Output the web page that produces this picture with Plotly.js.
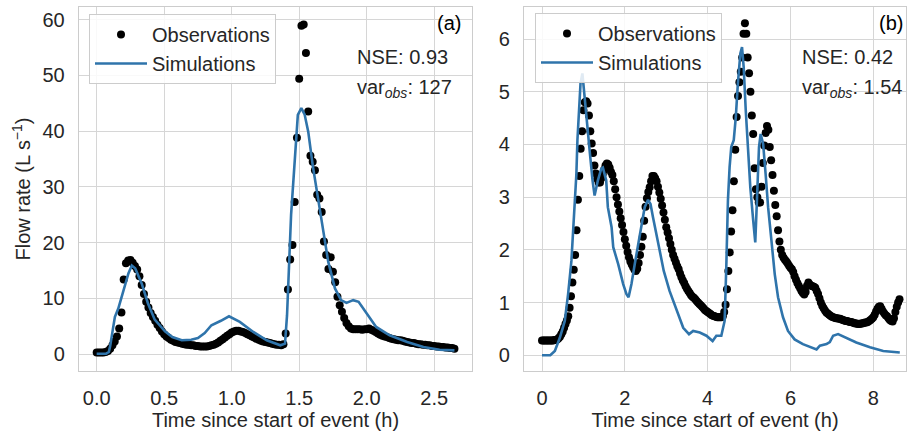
<!DOCTYPE html>
<html>
<head>
<meta charset="utf-8">
<script src="https://cdn.plot.ly/plotly-3.0.1.min.js"></script>
<style>html,body{margin:0;padding:0;background:#fff;}#chart{width:909px;height:432px;}</style>
</head>
<body>
<div id="chart"></div>
<script>
// ---------- Panel (a) ----------
// observations, one value per minute starting at t = 0 h
const obsA_step = 1 / 60;
const obsA_q = [
  0.3, 0.3, 0.3, 0.3, 0.4, 0.6, 1.0, 1.6, 2.3, 3.2,
  4.6, 7.5, 13.4, 16.3, 16.8, 16.9, 16.4, 15.8, 15.2, 14.0,
  12.4, 10.8, 9.4, 8.4, 7.4, 6.7, 6.0, 5.3, 4.7, 4.1,
  3.6, 3.2, 2.9, 2.6, 2.4, 2.2, 2.1, 2.0, 1.9, 1.8,
  1.7, 1.7, 1.6, 1.6, 1.5, 1.5, 1.4, 1.4, 1.4, 1.4,
  1.5, 1.6, 1.7, 1.9, 2.1, 2.4, 2.7, 3.0, 3.3, 3.6,
  3.9, 4.1, 4.2, 4.2, 4.1, 4.0, 3.8, 3.6, 3.4, 3.2,
  3.0, 2.8, 2.6, 2.4, 2.3, 2.2, 2.1, 2.0, 1.9, 1.8,
  1.7, 1.7, 1.6, 1.8, 3.7, 11.6, 17.0, 19.6, 27.3, 38.8,
  49.4, 58.9, 59.1, 54.0, 43.5, 35.6, 34.5, 33.0, 28.6, 27.9,
  25.5, 20.2, 17.8, 15.3, 17.4, 14.8, 12.9, 10.3, 8.8, 7.6,
  6.5, 5.6, 5.0, 4.6, 4.5, 4.5, 4.5, 4.5, 4.4, 4.5,
  4.5, 4.6, 4.4, 4.2, 4.0, 3.7, 3.5, 3.3, 3.2, 3.1,
  2.9, 2.8, 2.7, 2.6, 2.5, 2.5, 2.4, 2.3, 2.2, 2.1,
  2.0, 2.0, 1.9, 1.8, 1.8, 1.7, 1.7, 1.6, 1.6, 1.5,
  1.5, 1.4, 1.4, 1.3, 1.3, 1.2, 1.2, 1.1, 1.1, 1.0
];
const obsA_t = obsA_q.map((_, i) => i * obsA_step);

const simA_t = [0, 0.07, 0.09, 0.10, 0.12, 0.135, 0.16, 0.197, 0.235, 0.26, 0.285, 0.333, 0.38, 0.43, 0.506, 0.56, 0.63, 0.70, 0.75, 0.80, 0.85, 0.92, 0.98, 1.06, 1.16, 1.26, 1.36, 1.395, 1.41, 1.44, 1.47, 1.49, 1.516, 1.54, 1.567, 1.60, 1.64, 1.68, 1.715, 1.765, 1.81, 1.85, 1.90, 1.94, 2.00, 2.07, 2.17, 2.30, 2.42, 2.54, 2.65];
const simA_q = [0.1, 0.1, 0.4, 1.5, 4.5, 6.7, 8.2, 11.5, 14.5, 15.9, 15.4, 12.7, 9.1, 6.2, 4.1, 3.1, 2.5, 2.6, 2.9, 3.8, 5.2, 6.0, 6.8, 5.8, 4.0, 2.5, 1.6, 1.9, 7.0, 25.0, 37.0, 42.9, 44.1, 43.0, 39.9, 33.9, 27.9, 21.9, 16.6, 11.8, 9.7, 9.2, 9.7, 9.4, 7.3, 4.9, 3.4, 2.2, 1.3, 0.8, 0.7];

// ---------- Panel (b) ----------
// observations, one value every 2 minutes starting at t = 0 h
const obsB_step = 1 / 30;
const obsB_q = [
  0.28, 0.28, 0.28, 0.28, 0.28, 0.28, 0.28, 0.28, 0.28, 0.29,
  0.29, 0.30, 0.32, 0.35, 0.40, 0.45, 0.52, 0.59, 0.66, 0.74,
  0.90, 1.12, 1.38, 1.62, 1.90, 2.37, 2.95, 3.40, 3.92, 4.25,
  4.65, 4.80, 4.82, 4.78, 4.55, 4.25, 4.02, 3.84, 3.60, 3.45,
  3.35, 3.28, 3.28, 3.36, 3.44, 3.52, 3.60, 3.64, 3.62, 3.56,
  3.48, 3.42, 3.30, 3.15, 3.00, 2.86, 2.73, 2.60, 2.47, 2.34,
  2.20, 2.08, 1.96, 1.86, 1.78, 1.72, 1.67, 1.62, 1.60, 1.64,
  1.75, 1.90, 2.06, 2.25, 2.55, 2.82, 2.98, 3.10, 3.19, 3.30,
  3.40, 3.40, 3.36, 3.30, 3.20, 3.09, 2.97, 2.84, 2.71, 2.57,
  2.43, 2.33, 2.22, 2.11, 2.00, 1.90, 1.83, 1.76, 1.69, 1.63,
  1.55, 1.48, 1.42, 1.37, 1.31, 1.26, 1.22, 1.18, 1.14, 1.11,
  1.09, 1.06, 1.03, 1.00, 0.97, 0.95, 0.92, 0.89, 0.86, 0.84,
  0.82, 0.80, 0.78, 0.76, 0.75, 0.74, 0.73, 0.72, 0.72, 0.72,
  0.72, 0.74, 0.82, 0.96, 1.25, 1.60, 1.95, 2.35, 2.75, 3.30,
  3.90, 4.52, 4.92, 5.18, 5.38, 5.65, 6.10, 6.30, 6.10, 5.65,
  5.35, 5.00, 4.55, 4.20, 3.55, 3.15, 3.00, 2.90, 2.90, 3.20,
  3.65, 3.98, 4.22, 4.35, 4.28, 3.95, 3.70, 3.42, 3.12, 2.85,
  2.64, 2.37, 2.16, 2.00, 1.90, 1.85, 1.81, 1.78, 1.74, 1.70,
  1.66, 1.63, 1.58, 1.50, 1.43, 1.37, 1.32, 1.27, 1.22, 1.18,
  1.15, 1.20, 1.32, 1.38, 1.34, 1.32, 1.31, 1.30, 1.28, 1.22,
  1.16, 1.08, 1.00, 0.94, 0.89, 0.85, 0.81, 0.79, 0.77, 0.75,
  0.73, 0.72, 0.71, 0.70, 0.70, 0.69, 0.69, 0.68, 0.67, 0.66,
  0.65, 0.65, 0.64, 0.63, 0.63, 0.62, 0.61, 0.60, 0.60, 0.59,
  0.59, 0.60, 0.60, 0.61, 0.62, 0.62, 0.63, 0.65, 0.67, 0.69,
  0.72, 0.77, 0.83, 0.88, 0.92, 0.93, 0.88, 0.83, 0.79, 0.76,
  0.74, 0.70, 0.67, 0.65, 0.64, 0.70, 0.82, 0.92, 1.00, 1.06
];
const obsB_t = obsB_q.map((_, i) => i * obsB_step);

const simB_t = [0, 0.2, 0.31, 0.43, 0.55, 0.63, 0.71, 0.77, 0.83, 0.855, 0.895, 0.93, 0.975, 1.03, 1.09, 1.15, 1.22, 1.27, 1.35, 1.43, 1.47, 1.55, 1.59, 1.68, 1.72, 1.84, 1.96, 2.04, 2.09, 2.16, 2.24, 2.34, 2.40, 2.48, 2.56, 2.62, 2.68, 2.76, 2.84, 2.94, 3.08, 3.25, 3.41, 3.55, 3.65, 3.81, 3.97, 4.12, 4.21, 4.33, 4.41, 4.45, 4.49, 4.53, 4.57, 4.63, 4.68, 4.73, 4.79, 4.83, 4.87, 4.92, 4.98, 5.03, 5.10, 5.15, 5.19, 5.24, 5.28, 5.34, 5.40, 5.46, 5.54, 5.62, 5.70, 5.82, 5.94, 6.10, 6.30, 6.51, 6.63, 6.71, 6.87, 6.95, 7.03, 7.15, 7.35, 7.59, 7.92, 8.24, 8.64];
const simB_q = [0, 0, 0.08, 0.33, 0.65, 1.16, 1.79, 2.56, 3.44, 4.08, 4.71, 5.16, 5.35, 4.84, 4.33, 3.89, 3.32, 3.03, 3.32, 3.54, 3.56, 3.32, 2.81, 2.43, 2.05, 1.73, 1.35, 1.16, 1.10, 1.35, 1.73, 2.18, 2.49, 2.81, 2.95, 2.87, 2.62, 2.30, 1.98, 1.60, 1.22, 0.84, 0.52, 0.40, 0.46, 0.43, 0.37, 0.27, 0.37, 0.37, 0.65, 1.67, 2.94, 3.57, 3.95, 4.08, 4.52, 5.16, 5.73, 5.85, 5.47, 4.65, 3.89, 3.19, 2.56, 2.14, 2.94, 3.95, 4.20, 4.01, 3.44, 2.81, 2.18, 1.54, 1.10, 0.72, 0.46, 0.30, 0.21, 0.15, 0.11, 0.18, 0.21, 0.25, 0.37, 0.40, 0.33, 0.24, 0.15, 0.08, 0.05];

// ---------- tick labels / text ----------
const xTicksA = [0, 0.5, 1.0, 1.5, 2.0, 2.5];
const xTickTextA = ['0.0', '0.5', '1.0', '1.5', '2.0', '2.5'];
const yTicksA = [0, 10, 20, 30, 40, 50, 60];
const xTicksB = [0, 2, 4, 6, 8];
const yTicksB = [0, 1, 2, 3, 4, 5, 6];
const statsA = {nse: '0.93', varObs: '127', label: '(a)'};
const statsB = {nse: '0.42', varObs: '1.54', label: '(b)'};

const FONT = 'Liberation Sans, Arial, sans-serif';
const TXT = '#262626';
const GRID = '#d6d6d6';
const FRAME = '#cccccc';
const BLUE = '#2f74ab';

// pixel helpers for layout placement (plot area: 79..906 x 7..371)
const W = 909, H = 432, ML = 79, MR = 3, MT = 7, MB = 61;
const PW = W - ML - MR, PH = H - MT - MB;
const px = v => (v - ML) / PW;
const py = v => (H - MB - v) / PH;

function obsTrace(x, y, xa, ya, leg) {
  return {x, y, xaxis: xa, yaxis: ya, type: 'scatter', mode: 'markers', name: 'Observations',
    legend: leg, marker: {color: '#000000', size: 8}, cliponaxis: true};
}
function simTrace(x, y, xa, ya, leg) {
  return {x, y, xaxis: xa, yaxis: ya, type: 'scatter', mode: 'lines', name: 'Simulations',
    legend: leg, line: {color: BLUE, width: 2.6}};
}

const data = [
  obsTrace(obsA_t, obsA_q, 'x', 'y', 'legend'),
  simTrace(simA_t, simA_q, 'x', 'y', 'legend'),
  obsTrace(obsB_t, obsB_q, 'x2', 'y2', 'legend2'),
  simTrace(simB_t, simB_q, 'x2', 'y2', 'legend2')
];

const axisCommon = {
  showline: true, mirror: true, linecolor: FRAME, linewidth: 1.25,
  showgrid: true, gridcolor: GRID, gridwidth: 1, zeroline: false,
  ticks: 'outside', tickcolor: 'rgba(0,0,0,0)', ticklen: 9,
  tickfont: {family: FONT, size: 20, color: TXT}
};
const titleFont = {family: FONT, size: 20, color: TXT};

function legendAt(x, y) {
  return {x, y, xanchor: 'left', yanchor: 'top', bgcolor: 'rgba(255,255,255,0.85)',
    bordercolor: FRAME, borderwidth: 1, font: {family: FONT, size: 20, color: TXT},
    tracegroupgap: 0, itemwidth: 52};
}

function statAnnots(xLeft, s, labelRight) {
  return [
    {xref: 'paper', yref: 'paper', x: px(xLeft), y: py(57), xanchor: 'left', yanchor: 'middle',
     text: 'NSE: ' + s.nse, showarrow: false, font: {family: FONT, size: 20, color: TXT}},
    {xref: 'paper', yref: 'paper', x: px(xLeft), y: py(89), xanchor: 'left', yanchor: 'middle',
     text: 'var<sub><i>obs</i></sub>: ' + s.varObs, showarrow: false, font: {family: FONT, size: 20, color: TXT}},
    {xref: 'paper', yref: 'paper', x: px(labelRight), y: py(23), xanchor: 'right', yanchor: 'middle',
     text: s.label, showarrow: false, font: {family: FONT, size: 20, color: '#000'}}
  ];
}

const layout = {
  width: W, height: H,
  margin: {l: ML, r: MR, t: MT, b: MB},
  paper_bgcolor: '#ffffff', plot_bgcolor: '#ffffff',
  showlegend: true,
  xaxis: Object.assign({}, axisCommon, {
    domain: [0, px(472)], range: [-0.131, 2.78], tickvals: xTicksA, ticktext: xTickTextA, anchor: 'y',
    title: {text: 'Time since start of event (h)', font: titleFont, standoff: 4}
  }),
  yaxis: Object.assign({}, axisCommon, {
    domain: [0, 1], range: [-3.0, 62.24], tickvals: yTicksA, anchor: 'x',
    title: {text: 'Flow rate (L s<sup>−1</sup>)', font: titleFont, standoff: 6}
  }),
  xaxis2: Object.assign({}, axisCommon, {
    domain: [px(524), 1], range: [-0.435, 8.79], tickvals: xTicksB, anchor: 'y2',
    title: {text: 'Time since start of event (h)', font: titleFont, standoff: 4}
  }),
  yaxis2: Object.assign({}, axisCommon, {
    domain: [0, 1], range: [-0.3, 6.61], tickvals: yTicksB, anchor: 'x2'
  }),
  legend: legendAt(px(89), py(14)),
  legend2: legendAt(px(535), py(13)),
  shapes: [
    {type: 'rect', xref: 'paper', yref: 'paper', x0: px(345), x1: px(463), y0: py(111), y1: py(39),
     fillcolor: '#ffffff', line: {width: 0}, layer: 'between'},
    {type: 'rect', xref: 'paper', yref: 'paper', x0: px(793), x1: px(905.5), y0: py(111), y1: py(39),
     fillcolor: '#ffffff', line: {width: 0}, layer: 'between'}
  ],
  annotations: statAnnots(355, statsA, 463).concat(statAnnots(800, statsB, 905))
};

Plotly.newPlot('chart', data, layout, {displayModeBar: false, staticPlot: true});
</script>
</body>
</html>
